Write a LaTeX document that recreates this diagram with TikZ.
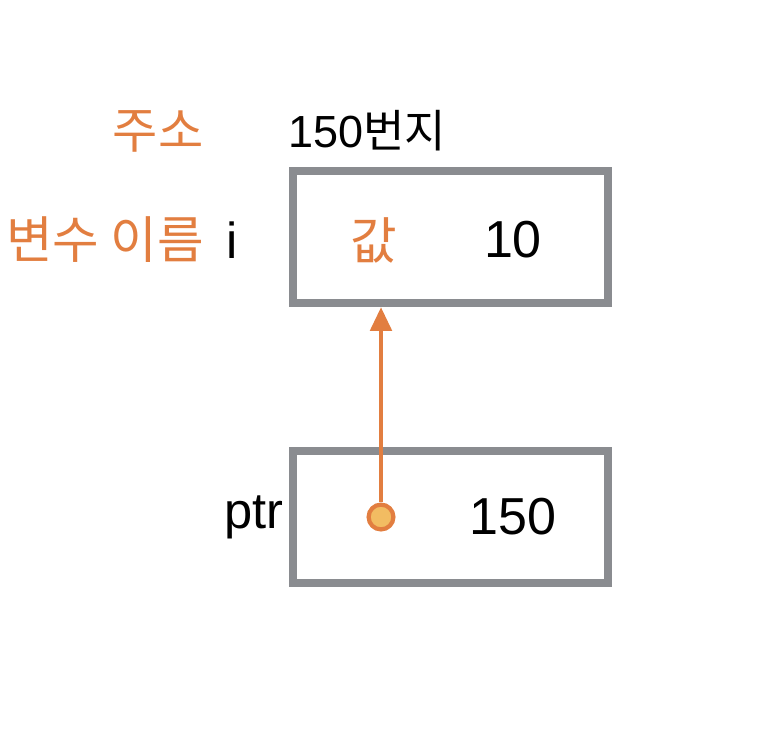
\documentclass[tikz,border=0pt]{standalone}
\usepackage{fontspec}
\setmainfont{Liberation Sans}
\newfontfamily\kr{Noto Sans CJK KR}
\usepackage{xcolor}
\definecolor{labelorange}{RGB}{226, 126, 64}
\definecolor{boxgrey}{RGB}{138, 140, 144}
\definecolor{dotfill}{RGB}{242, 188, 98}
\usetikzlibrary{arrows.meta, positioning, calc}

\begin{document}
\begin{tikzpicture}[x=0.025cm, y=-0.025cm, >={Triangle[length=17pt, width=15pt]},
    membox/.style={draw=boxgrey, line width=5.7pt, minimum width=7.875cm, minimum height=3.3cm, inner sep=0pt},
    krlabel/.style={text=labelorange, font=\kr\fontsize{36}{39}\selectfont, inner sep=0pt},
    numlabel/.style={font=\fontsize{37}{40}\selectfont, inner sep=0pt}]
    \useasboundingbox (0,0) rectangle (768,730);

    % memory cells
    \node[membox] (cell) at (450.5,237) {};
    \node[membox] (ptrcell) at (450.5,517) {};

    % labels above and left of the variable
    \node[krlabel, font=\kr\fontsize{35}{38}\selectfont] (addr) at (158,131) {주소};
    \node[anchor=west, inner sep=0pt, font=\fontsize{32}{35}\selectfont] (addrval) at (288,131) {150{\kr 번지}};
    \node[krlabel, anchor=west] (varname) at (6,240) {변수 이름\hspace{16pt}{\color{black}\normalfont i}};

    % contents
    \node[krlabel] (val) at (374,240) {값};
    \node[numlabel] (ten) at (513,240) {10};
    \node[numlabel, anchor=east, font=\fontsize{36}{39}\selectfont] (ptr) at (284,517) {ptr};
    \node[numlabel] (addrnum) at (513,517) {150};

    % pointer
    \node[circle, draw=labelorange, fill=dotfill, line width=3pt, inner sep=0pt, minimum size=0.62cm] (dot) at (381,517) {};
    \draw[->, labelorange, line width=3.5pt] (dot.north) -- (cell.south -| dot);
\end{tikzpicture}
\end{document}
